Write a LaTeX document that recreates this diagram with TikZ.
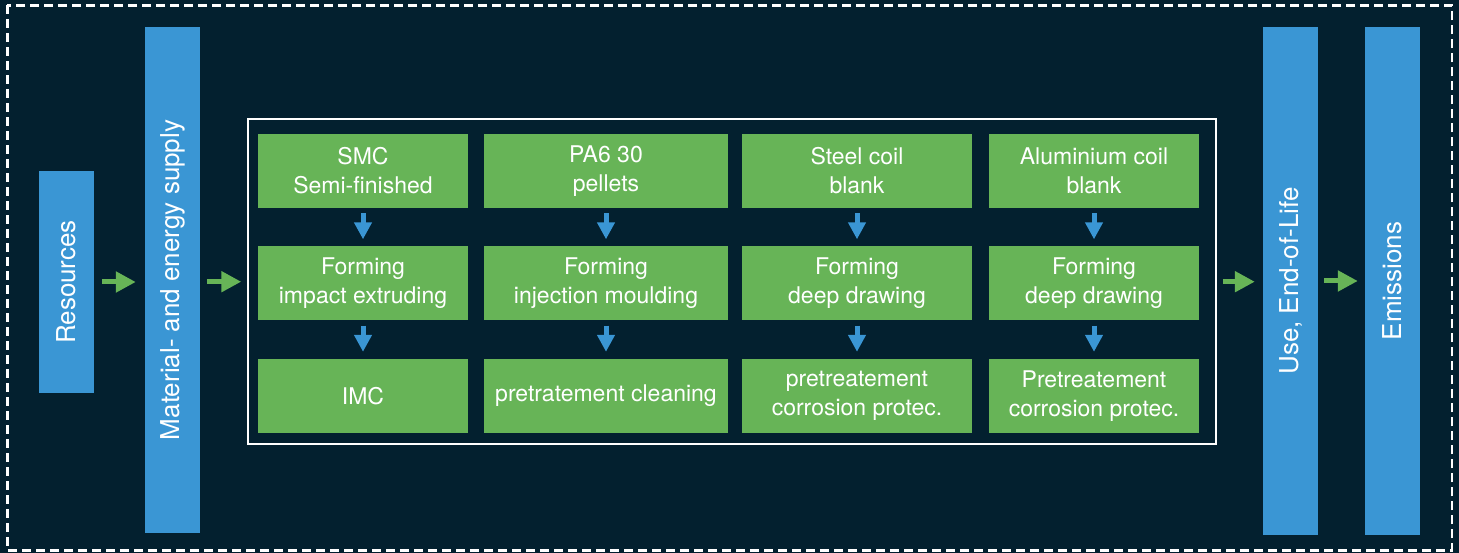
\documentclass[tikz,border=0pt]{standalone}
\usepackage{fontspec}
\setmainfont{TeX Gyre Heros}
\usetikzlibrary{arrows.meta,positioning}
\definecolor{navy}{HTML}{03202F}
\definecolor{barblue}{HTML}{3A96D4}
\definecolor{boxgreen}{HTML}{67B457}
\tikzset{
	bar/.style={fill=barblue, inner sep=0pt, minimum width=55pt, text=white, font=\fontsize{26}{31}\selectfont},
	stepbox/.style={fill=boxgreen, inner sep=0pt, minimum height=74pt, text=white, align=center, font=\fontsize{23}{29}\selectfont},
	flow/.style={draw=boxgreen, line width=5pt, -{Triangle[length=20pt,width=20pt]}},
	down/.style={draw=barblue, line width=5pt, -{Triangle[length=17pt,width=17pt]}, shorten <=5pt, shorten >=7pt},
}
\begin{document}
\begin{tikzpicture}[x=1pt,y=-1pt]
			% background and dashed border
			\fill[navy] (0,0) rectangle (1459,553);
			\useasboundingbox (0,0) rectangle (1459,553);
			\draw[white, line width=2.5pt, dash pattern=on 9pt off 5pt] (7.3,5.3) rectangle (1452,550.5);
			% side bars
			\node[bar, minimum height=222pt] (res) at (66.5,282) {\rotatebox{90}{Resources}};
			\node[bar, minimum height=506pt] (mat) at (172.5,280) {\rotatebox{90}{Material- and energy supply}};
			\node[bar, minimum height=508pt] (use) at (1290.5,281) {\rotatebox{90}{Use, End-of-Life}};
			\node[bar, minimum height=508pt] (emi) at (1392.5,281) {\rotatebox{90}{Emissions}};
			% process frame
			\node[draw=white, line width=2pt, inner sep=0pt, minimum width=968pt, minimum height=325pt] (frame) at (731.75,281.7) {};
			% process steps, one column per part
			\foreach \c/\x/\w/\ta/\tb/\tc in {
				1/363/210/SMC\\Semi-finished/Forming\\impact extruding/IMC,
				2/606/244/PA6 30\\pellets/Forming\\injection moulding/pretratement cleaning,
				3/857/230/Steel coil\\blank/Forming\\deep drawing/pretreatement\\corrosion protec.,
				4/1094/210/Aluminium coil\\blank/Forming\\deep drawing/Pretreatement\\corrosion protec.} {
				\node[stepbox, minimum width=\w pt] (top\c) at (\x,171) {\ta};
				\node[stepbox, minimum width=\w pt] (mid\c) at (\x,283.5) {\tb};
				\node[stepbox, minimum width=\w pt] (bot\c) at (\x,396) {\tc};
				\draw[down] (top\c) -- (mid\c);
				\draw[down] (mid\c) -- (bot\c);
			}
			% flow between blocks
			\draw[flow, shorten <=8pt, shorten >=9pt] (res.east) -- (res.east -| mat.west);
			\draw[flow, shorten <=7pt, shorten >=5.5pt] (frame.west -| mat.east) -- (frame.west);
			\draw[flow, shorten <=6pt, shorten >=8pt] (frame.east) -- (frame.east -| use.west);
			\draw[flow, shorten <=6pt, shorten >=7pt] (use) -- (emi);
		\end{tikzpicture}
\end{document}
